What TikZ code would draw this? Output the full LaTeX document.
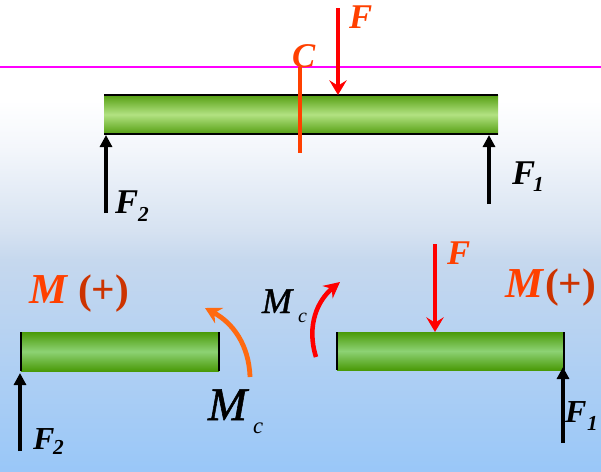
\documentclass[tikz,border=0pt]{standalone}
\usepackage{fontspec}
\setmainfont{Liberation Serif}
\newfontfamily\semiM[FakeBold=1.2]{Liberation Serif Italic}
\usetikzlibrary{arrows.meta}
\definecolor{bgA}{HTML}{99C7F8}
\definecolor{bgB}{HTML}{C6D8EE}
\definecolor{bgC}{HTML}{D6E2F1}
\definecolor{bgD}{HTML}{F3F6FB}
\definecolor{txtred}{HTML}{FF4000}
\definecolor{parenred}{HTML}{CC3300}
\definecolor{arcorange}{HTML}{FF6A10}
\definecolor{secline}{HTML}{FF00FF}
\definecolor{forcered}{HTML}{FF0000}
\definecolor{beamTopDark}{HTML}{559F12}
\definecolor{beamTopLight}{HTML}{B2E282}
\definecolor{beamLowDark}{HTML}{4A9A08}
\definecolor{beamLowLight}{HTML}{8DD274}
\pgfdeclareverticalshading{bgshade}{100bp}{
  color(0bp)=(bgA); color(25bp)=(bgA); color(47.5bp)=(bgB); color(50.6bp)=(bgC);
  color(59.1bp)=(bgD); color(64.4bp)=(white); color(100bp)=(white)}
\pgfdeclareverticalshading{topbeamshade}{100bp}{
  color(0bp)=(beamTopDark); color(25bp)=(beamTopDark); color(50bp)=(beamTopLight);
  color(75bp)=(beamTopDark); color(100bp)=(beamTopDark)}
\pgfdeclareverticalshading{lowbeamshade}{100bp}{
  color(0bp)=(beamLowDark); color(25bp)=(beamLowDark); color(50bp)=(beamLowLight);
  color(75bp)=(beamLowDark); color(100bp)=(beamLowDark)}
\tikzset{
  topbeam/.style={anchor=north west,inner sep=0pt,outer sep=0pt,shading=topbeamshade},
  lowbeam/.style={anchor=north west,inner sep=0pt,outer sep=0pt,shading=lowbeamshade},
  edgeline/.style={black,line width=1pt},
  blackforce/.style={draw=black,line width=2.4pt,-{Triangle[length=9pt,width=9pt]}},
  downforce/.style={draw=forcered,line width=2.6pt,-{Stealth[length=11pt,width=13pt,inset=4pt]}},
  lab/.style={anchor=base west,inner sep=0pt,outer sep=0pt},
  forcelab/.style={lab,font=\fontsize{26}{26}\selectfont\bfseries\itshape},
  sublab/.style={lab,font=\fontsize{16}{16}\selectfont\bfseries\itshape},
  signlab/.style={lab,font=\fontsize{31}{31}\selectfont\bfseries},
}
\begin{document}
\begin{tikzpicture}[x=0.75pt,y=-0.75pt]
\path[use as bounding box,shading=bgshade] (0,0) rectangle (601,472);
% upper beam
\node[topbeam,minimum width=295.5pt,minimum height=29.25pt] (b0) at (104,95) {};
\draw[edgeline] (b0.north west) -- (b0.north east);
\draw[edgeline] (b0.south west) -- (b0.south east);
\coordinate (secL) at (0,67);
\coordinate (secR) at (601,67);
\draw[draw=secline,line width=1.6pt] (secL) -- (secR);
\coordinate (cTop) at (300,67);
\coordinate (cBot) at (300,153);
\draw[txtred,line width=2.4pt] (cTop) -- (cBot);
\node[lab,text=txtred,font=\fontsize{26}{26}\selectfont\bfseries\itshape] (cLab) at (292,67) {C};
\coordinate (f0t) at (338,8);
\coordinate (f0h) at (338,95);
\draw[downforce] (f0t) -- (f0h);
\node[forcelab,text=txtred] (f0Lab) at (349,28) {F};
\coordinate (f2t) at (106,213);
\coordinate (f2h) at (106,135);
\draw[blackforce] (f2t) -- (f2h);
\node[forcelab] (f2Lab) at (115,213) {F};
\node[sublab] (f2Sub) at (138,221) {2};
\coordinate (f1t) at (489,204);
\coordinate (f1h) at (489,135);
\draw[blackforce] (f1t) -- (f1h);
\node[forcelab] (f1Lab) at (512,184) {F};
\node[sublab] (f1Sub) at (533,191) {1};
% lower left
\node[lowbeam,minimum width=148.5pt,minimum height=29.25pt] (bl) at (21,332) {};
\draw[edgeline] (bl.north west) -- (bl.south west);
\draw[edgeline] (bl.north east) -- (bl.south east);
\node[signlab,text=txtred,font=\fontsize{32}{32}\selectfont\bfseries\itshape] (mlM) at (30,303) {M};
\node[signlab,text=parenred] (mlP) at (78,303) {(+)};
\coordinate (alS) at (250,377);
\coordinate (alE) at (205,308);
\draw[draw=arcorange,line width=3.6pt,-{Stealth[length=12pt,width=13pt,inset=4pt]}] (alS) .. controls (249,345) and (233,323) .. (alE);
\node[lab,font=\fontsize{35}{35}\selectfont\semiM] (mcL) at (208,420) {M};
\node[lab,font=\fontsize{17}{17}\selectfont\itshape] (mcLs) at (253,433) {c};
\coordinate (f2lt) at (20,451);
\coordinate (f2lh) at (20,373);
\draw[blackforce] (f2lt) -- (f2lh);
\node[forcelab,font=\fontsize{24}{24}\selectfont\bfseries\itshape] (f2lLab) at (33,449) {F};
\node[sublab] (f2lSub) at (53,454) {2};
% lower right
\node[lowbeam,minimum width=170.25pt,minimum height=28.5pt] (br) at (337,332) {};
\draw[edgeline] (br.north west) -- (br.south west);
\draw[edgeline] (br.north east) -- (br.south east);
\coordinate (arS) at (316,357);
\coordinate (arE) at (340,282);
\draw[draw=forcered,line width=3.4pt,-{Stealth[length=12pt,width=12pt,inset=4pt]}] (arS) .. controls (306,325) and (318,300) .. (arE);
\node[lab,font=\fontsize{27}{27}\selectfont\semiM] (mcR) at (262,313) {M};
\node[lab,font=\fontsize{15}{15}\selectfont\itshape] (mcRs) at (298,322) {c};
\coordinate (frt) at (435,244);
\coordinate (frh) at (435,332);
\draw[downforce] (frt) -- (frh);
\node[forcelab,text=txtred] (frLab) at (447,264) {F};
\node[signlab,text=txtred,font=\fontsize{32}{32}\selectfont\bfseries\itshape] (mrM) at (505,297) {M};
\node[signlab,text=parenred] (mrP) at (545,297) {(+)};
\coordinate (f1lt) at (563,443);
\coordinate (f1lh) at (563,367);
\draw[blackforce] (f1lt) -- (f1lh);
\node[forcelab,font=\fontsize{24}{24}\selectfont\bfseries\itshape] (f1lLab) at (565,422) {F};
\node[sublab] (f1lSub) at (587,430) {1};
\end{tikzpicture}
\end{document}
